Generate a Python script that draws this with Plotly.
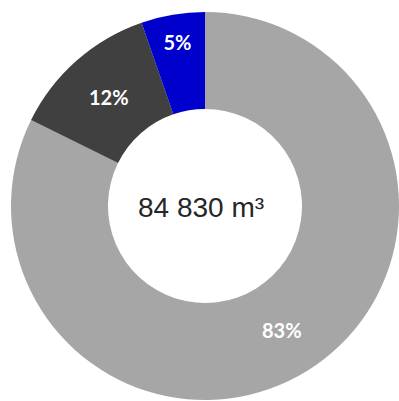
import plotly.graph_objects as go

categories = ["Grey", "Dark", "Blue"]
values = [82.3, 12.4, 5.3]
labels_text = ["83%", "12%", "5%"]
colors = ["#a6a6a6", "#404040", "#0000cc"]
center_label = "84 830 m³"

W, H = 399, 401

fig = go.Figure(go.Pie(
    labels=categories,
    values=values,
    text=labels_text,
    textinfo="text",
    textposition="inside",
    insidetextorientation="horizontal",
    sort=False,
    direction="clockwise",
    rotation=0,
    hole=0.5,
    marker=dict(colors=colors, line=dict(width=0)),
    textfont=dict(family="Lato", size=20, color="white", weight="bold"),
    hoverinfo="skip",
    showlegend=False,
    domain=dict(x=[11 / W, 1.0], y=[1 - 400 / H, 1 - 12 / H]),
))

fig.add_annotation(
    text=center_label,
    x=200.5 / W, y=1 - 207 / H,
    xref="paper", yref="paper",
    xanchor="center", yanchor="middle",
    showarrow=False,
    font=dict(family="Liberation Sans", size=28, color="#262626"),
)

fig.update_layout(
    width=W, height=H,
    margin=dict(l=0, r=0, t=0, b=0),
    paper_bgcolor="white",
    plot_bgcolor="white",
)

fig.write_html("out.html", config={"displayModeBar": False},
               post_script="document.body.style.margin='0px';")
